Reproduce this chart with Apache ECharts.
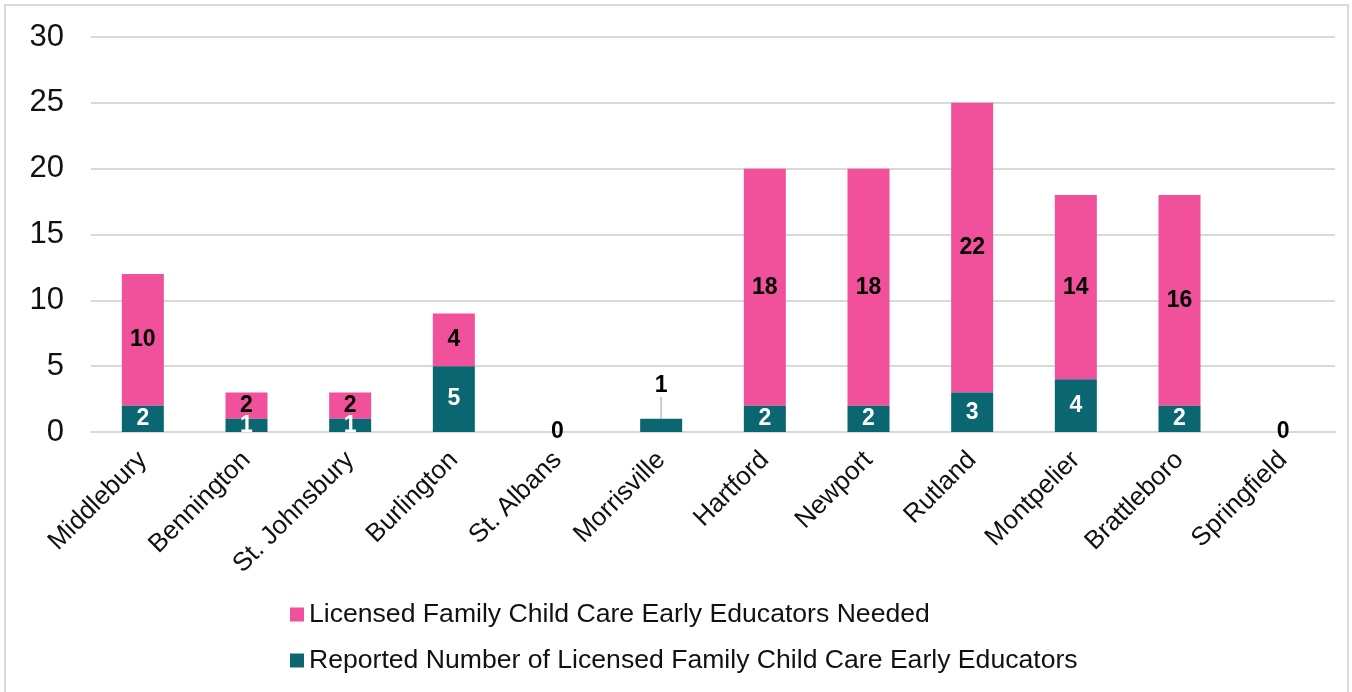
<!DOCTYPE html>
<html><head><meta charset="utf-8">
<script src="https://cdn.jsdelivr.net/npm/echarts@6/dist/echarts.min.js"></script>
<style>html,body{margin:0;padding:0;background:#fff}#c{width:1352px;height:692px}</style>
</head><body><div id="c"></div>
<script>
const categories = ['Middlebury','Bennington','St. Johnsbury','Burlington','St. Albans','Morrisville','Hartford','Newport','Rutland','Montpelier','Brattleboro','Springfield'];
const needed = [10,2,2,4,0,0,18,18,22,14,16,0];
const reported = [2,1,1,5,0,1,2,2,3,4,2,0];
const yTicks = [0,5,10,15,20,25,30];
const seriesNames = ['Licensed Family Child Care Early Educators Needed','Reported Number of Licensed Family Child Care Early Educators'];

const PINK = '#F1509A', TEAL = '#0A6671';
const FONT = 'Liberation Sans, Arial, sans-serif';
const chart = echarts.init(document.getElementById('c'));

const repData = reported.map((v, i) => {
  const tot = v + needed[i];
  if (tot === 0) return {value: v, label: {show: true, color: '#000', position: 'inside'}};
  if (needed[i] === 0) return {value: v, label: {show: true, color: '#000', position: 'top', distance: 4}};
  return {value: v};
});
const needData = needed.map(v => ({value: v, label: {show: v > 0}}));

chart.setOption({
  animation: false,
  textStyle: {fontFamily: FONT},
  graphic: [{type: 'rect', shape: {x: 5, y: 5, width: 1343, height: 720}, style: {fill: 'none', stroke: '#d9d9d9', lineWidth: 2}}],
  grid: {left: 91, right: 17, top: 37, bottom: 260},
  legend: {
    data: seriesNames, orient: 'vertical', left: 285, top: 596,
    itemWidth: 14, itemHeight: 14, itemGap: 19, icon: 'rect',
    textStyle: {fontSize: 26.6, color: '#111', fontFamily: FONT}
  },
  xAxis: {
    type: 'category', data: categories,
    axisLine: {lineStyle: {color: '#d9d9d9', width: 2}},
    axisTick: {show: false},
    axisLabel: {rotate: 45, fontSize: 26, color: '#111', margin: 24, interval: 0, fontFamily: FONT}
  },
  yAxis: {
    type: 'value', min: 0, max: 30, interval: 5,
    axisLabel: {fontSize: 31, color: '#111', margin: 27, fontFamily: FONT,
      formatter: v => yTicks.includes(v) ? String(v) : ''},
    splitLine: {lineStyle: {color: '#d9d9d9', width: 2}},
    axisLine: {show: false}, axisTick: {show: false}
  },
  series: [
    {
      name: seriesNames[1], type: 'bar', stack: 's', barWidth: 42,
      itemStyle: {color: TEAL},
      data: repData,
      label: {show: true, position: 'inside', color: '#fff', fontWeight: 'bold', fontSize: 23, fontFamily: FONT,
        formatter: p => String(p.value)},
      labelLayout: p => (reported[p.dataIndex] > 0 && needed[p.dataIndex] === 0) ? {dy: -18} : {},
      labelLine: {show: true, lineStyle: {color: '#bfbfbf', width: 1.5}},
      z: 3
    },
    {
      name: seriesNames[0], type: 'bar', stack: 's', barWidth: 42,
      itemStyle: {color: PINK},
      data: needData,
      label: {position: 'inside', color: '#000', fontWeight: 'bold', fontSize: 23, fontFamily: FONT},
      z: 2
    }
  ]
});
</script></body></html>
